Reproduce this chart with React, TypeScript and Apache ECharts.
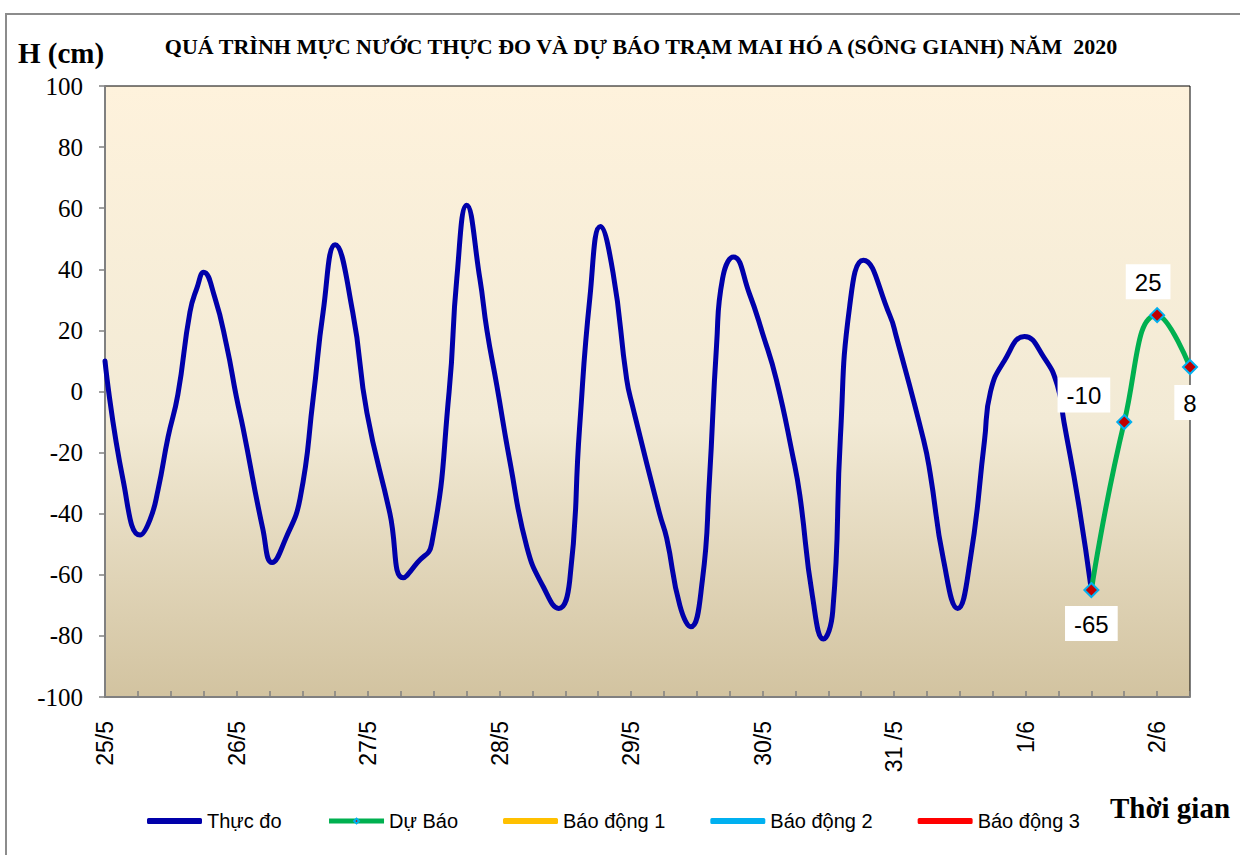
import React, { useEffect, useRef } from "react";
import * as echarts from "echarts";

const dayLabels = ["25/5", "26/5", "27/5", "28/5", "29/5", "30/5", "31 /5", "1/6", "2/6"];

// hours since 25/5 00h
const obsHours = [0, 3.3, 6.4, 8.2, 9.7, 11.5, 13.3, 15.5, 16.8, 18, 20, 22.2, 24, 25.2, 28.8, 30.5, 33, 35.6, 38, 39.8, 42, 45.2, 47.8, 52, 54.4, 57, 59.6, 62.8, 64.2, 66, 68.4, 69.7, 71.5, 73.9, 77, 80, 82.8, 84.8, 86.6, 88.5, 90.4, 92.7, 95.2, 96.3, 101.2, 102.5, 104.9, 106.9, 109, 110.3, 111.6, 112.7, 114.7, 117.6, 120, 122.5, 125.5, 126.8, 129.1, 131.1, 132.8, 134.2, 135.9, 138.4, 143.2, 144.4, 149.4, 150.6, 153, 155.6, 157.9, 160.5, 161.6, 164.1, 167.8, 171.4, 173.8, 175, 177.6, 180];
const obsValues = [10, -29, -47, -42, -32, -15, -1, 26, 34, 39, 31, 15, -2, -12, -45, -56, -48, -35, -2, 26, 48, 26, -7, -40, -61, -56, -50, 0, 37, 61, 37, 20, 2, -23, -51, -64, -71, -62, -12, 31, 54, 39, 4, -5, -40, -48, -70, -77, -62, -29, 15, 37, 44, 32, 19, 4, -21, -34, -67, -81, -72, -15, 28, 43, 25, 18, -16, -27, -55, -71, -55, -16, 0, 10, 18, 11, 2, -10, -36, -65];

const fcHours = [180, 186, 192, 198];
const fcValues = [-65, -10, 25, 8];

const yMin = -100;
const yMax = 100;
const yStep = 20;

export default function App() {
  const ref = useRef<HTMLDivElement>(null);

  useEffect(() => {
    if (!ref.current) return;
    const chart = echarts.init(ref.current, undefined, { renderer: "svg" });

    const labelBase = {
      show: true,
      fontFamily: "Arial, 'Liberation Sans', sans-serif",
      fontSize: 24,
      color: "#000",
      backgroundColor: "#fff",
      padding: [6, 9, 5, 9],
      formatter: (p: any) => String(p.value[1]),
    };
    const fcLabelCfg = [
      { position: "bottom", distance: 8 },
      { position: "left", distance: 6, offset: [0, -27] },
      { position: "top", distance: 8, offset: [-9, 0] },
      { position: "bottom", distance: 10 },
    ];

    const option: any = {
      animation: false,
      grid: {
        left: 105,
        top: 86,
        width: 1085,
        height: 611,
        show: true,
        borderColor: "#000",
        borderWidth: 1,
        backgroundColor: {
          type: "linear",
          x: 0,
          y: 0,
          x2: 0,
          y2: 1,
          colorStops: [
            { offset: 0, color: "#FEF2DC" },
            { offset: 0.55, color: "#F2EAD5" },
            { offset: 1, color: "#D2C3A0" },
          ],
        },
      },
      xAxis: {
        type: "value",
        min: 0,
        max: 198,
        interval: 6,
        axisLine: { show: true, onZero: false, lineStyle: { color: "#808080", width: 2 } },
        axisTick: { show: true, inside: true, length: 6, lineStyle: { color: "#808080", width: 1.5 } },
        splitLine: { show: false },
        axisLabel: {
          rotate: 90,
          margin: 24,
          fontFamily: "Arial, 'Liberation Sans', sans-serif",
          fontSize: 23,
          color: "#000",
          showMinLabel: true,
          showMaxLabel: true,
          formatter: (v: number) => (v % 24 === 0 ? dayLabels[v / 24] ?? "" : ""),
        },
      },
      yAxis: {
        type: "value",
        min: yMin,
        max: yMax,
        interval: yStep,
        axisLine: { show: true, lineStyle: { color: "#808080", width: 2 } },
        axisTick: { show: true, inside: false, length: 6, lineStyle: { color: "#808080", width: 1.5 } },
        splitLine: { show: false },
        axisLabel: {
          margin: 22,
          fontFamily: "'Liberation Serif', 'Times New Roman', serif",
          fontSize: 25,
          color: "#000",
        },
      },
      legend: {
        left: 142,
        top: 806,
        itemWidth: 55,
        itemHeight: 6,
        itemGap: 45,
        lineStyle: { width: 5 },
        textStyle: {
          fontFamily: "Arial, 'Liberation Sans', sans-serif",
          fontSize: 20,
          color: "#000",
        },
        data: [
          { name: "Thực đo", icon: "roundRect" },
          { name: "Dự Báo" },
          { name: "Báo động 1", icon: "roundRect" },
          { name: "Báo động 2", icon: "roundRect" },
          { name: "Báo động 3", icon: "roundRect" },
        ],
      },
      series: [
        {
          name: "Thực đo",
          type: "line",
          data: obsHours.map((h, i) => [h, obsValues[i]]),
          smooth: 0.5,
          symbol: "none",
          lineStyle: { color: "#0000AA", width: 5, cap: "round" },
          itemStyle: { color: "#0000AA" },
          z: 3,
        },
        {
          name: "Dự Báo",
          type: "line",
          data: fcHours.map((h, i) => ({
            value: [h, fcValues[i]],
            label: { ...labelBase, ...fcLabelCfg[i] },
          })),
          smooth: 0.5,
          symbol: "diamond",
          symbolSize: 14,
          lineStyle: { color: "#00B050", width: 5 },
          itemStyle: { color: "#C00000", borderColor: "#00B0F0", borderWidth: 2 },
          z: 4,
        },
        {
          name: "Báo động 1",
          type: "line",
          data: [],
          symbol: "none",
          lineStyle: { color: "#FFC000", width: 5 },
          itemStyle: { color: "#FFC000" },
        },
        {
          name: "Báo động 2",
          type: "line",
          data: [],
          symbol: "none",
          lineStyle: { color: "#00B0F0", width: 5 },
          itemStyle: { color: "#00B0F0" },
        },
        {
          name: "Báo động 3",
          type: "line",
          data: [],
          symbol: "none",
          lineStyle: { color: "#FF0000", width: 5 },
          itemStyle: { color: "#FF0000" },
        },
      ],
      graphic: [
        {
          type: "rect",
          shape: { x: 6, y: 14, width: 1270, height: 880 },
          style: { fill: "none", stroke: "#8C8C8C", lineWidth: 2 },
          silent: true,
        },
        {
          type: "text",
          x: 18,
          y: 53,
          style: {
            text: "H (cm)",
            font: "bold 29px 'Liberation Serif', 'Times New Roman', serif",
            fill: "#000",
            textVerticalAlign: "middle",
          },
        },
        {
          type: "text",
          x: 641,
          y: 47,
          scaleX: 1.1,
          style: {
            text: "QUÁ TRÌNH MỰC NƯỚC THỰC ĐO VÀ DỰ BÁO TRẠM MAI HÓ A (SÔNG GIANH) NĂM  2020",
            font: "bold 20px 'Liberation Serif', 'Times New Roman', serif",
            fill: "#000",
            textAlign: "center",
            textVerticalAlign: "middle",
          },
        },
        {
          type: "text",
          x: 1110,
          y: 808,
          style: {
            text: "Thời gian",
            font: "bold 29px 'Liberation Serif', 'Times New Roman', serif",
            fill: "#000",
            textVerticalAlign: "middle",
          },
        },
      ],
    };

    chart.setOption(option);
    return () => chart.dispose();
  }, []);

  return (
    <div
      ref={ref}
      style={{ position: "absolute", left: 0, top: 0, width: 1240, height: 855, background: "#fff" }}
    />
  );
}
